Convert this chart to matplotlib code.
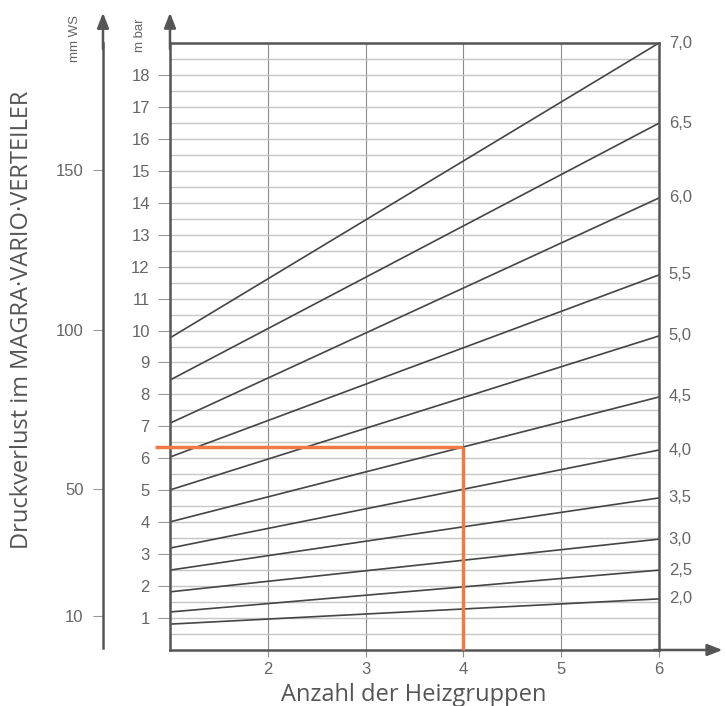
import numpy as np
import matplotlib
matplotlib.use("Agg")
import matplotlib.pyplot as plt
import matplotlib.transforms as mtransforms

# Anzahl der Heizgruppen
groups = [1, 6]
x_ticks = [2, 3, 4, 5, 6]

# curves: label at the right end, pressure loss (mbar) at 1 and at 6 groups
line_labels = ["7,0", "6,5", "6,0", "5,5", "5,0", "4,5", "4,0", "3,5", "3,0", "2,5", "2,0"]
mbar_at_1 = [9.77, 8.45, 7.10, 6.04, 5.01, 4.01, 3.19, 2.50, 1.82, 1.19, 0.81]
mbar_at_6 = [19.0, 16.49, 14.15, 11.74, 9.83, 7.92, 6.26, 4.76, 3.47, 2.50, 1.60]

mbar_ticks = list(range(1, 19))
mmws_ticks = [10, 50, 100, 150]

# example reading (orange)
example_groups = 4
example_mbar = 6.35

axis_col = "#555555"
text_col = "#666666"
num_font = "Liberation Sans"
lab_font = "Open Sans"

fig = plt.figure(figsize=(7.25, 7.06), dpi=100)
W, H = 725, 706
ax = fig.add_axes([170 / W, 56 / H, 489 / W, 607 / H])
ax.set_xlim(1, 6)
ax.set_ylim(0, 19)

# grid
ax.set_yticks(mbar_ticks)
ax.set_yticks(np.arange(0.5, 19, 0.5), minor=True)
ax.grid(axis="y", which="both", color="#c6c6c6", lw=1.0)
ax.set_xticks(x_ticks)
ax.grid(axis="x", color="#8c8c8c", lw=0.8)
ax.set_axisbelow(True)

ax.tick_params(axis="y", which="major", length=8.5, width=0.8, color="#9a9a9a",
               labelcolor=text_col, labelsize=12, pad=6)
ax.tick_params(axis="y", which="minor", length=0)
ax.tick_params(axis="x", length=5, width=0.8, color="#8c8c8c",
               labelcolor=text_col, labelsize=12, pad=4)
for lab in ax.get_xticklabels() + ax.get_yticklabels():
    lab.set_family(num_font)

for sp in ax.spines.values():
    sp.set_color(axis_col)
    sp.set_linewidth(1.8)

# curves
for lab, y1, y6 in zip(line_labels, mbar_at_1, mbar_at_6):
    ax.plot(groups, [y1, y6], color="#454545", lw=1.2)

trans = mtransforms.blended_transform_factory(ax.transAxes, ax.transData)
for lab, y6 in zip(line_labels, mbar_at_6):
    ax.text(1.02, y6, lab, transform=trans, ha="left", va="center",
            fontsize=12, color=text_col, family=num_font)

# orange example
x_left = ax.get_xlim()[0] - 0.15
ax.plot([x_left, example_groups], [example_mbar, example_mbar],
        color="#f07a45", lw=2.5, clip_on=False, solid_capstyle="butt", zorder=5)
ax.plot([example_groups, example_groups], [example_mbar, 0],
        color="#f07a45", lw=2.5, clip_on=False, solid_capstyle="butt", zorder=5)

# arrows on axes
arrow = dict(arrowstyle="-|>,head_length=0.9,head_width=0.35", color=axis_col,
             lw=1.8, shrinkA=0, shrinkB=0)
ax.annotate("", xy=(0, 1.05), xytext=(0, 0.99), xycoords="axes fraction", arrowprops=arrow)
ax.annotate("", xy=(1.13, 0), xytext=(0.99, 0), xycoords="axes fraction", arrowprops=arrow)

# mm WS axis
ax2 = fig.add_axes([103 / W, 58 / H, 0.0001, 605 / H])
ax2.set_ylim(0, 190)
ax2.set_yticks(mmws_ticks)
ax2.set_xticks([])
for s in ["top", "right", "bottom"]:
    ax2.spines[s].set_visible(False)
ax2.spines["left"].set_color(axis_col)
ax2.spines["left"].set_linewidth(1.8)
ax2.tick_params(axis="y", length=7, width=0.8, color="#9a9a9a",
                labelcolor=text_col, labelsize=12, pad=7)
for lab in ax2.get_yticklabels():
    lab.set_family(num_font)
ax2.annotate("", xy=(0, 1.05), xytext=(0, 0.99), xycoords="axes fraction", arrowprops=arrow)

# unit and axis titles
fig.text(140 / W, 1 - 35 / H, "m bar", rotation=90, ha="center", va="center",
         fontsize=9.5, color=text_col, family=num_font)
fig.text(75 / W, 1 - 38 / H, "mm WS", rotation=90, ha="center", va="center",
         fontsize=9.5, color=text_col, family=num_font)
fig.text(22 / W, 1 - 320 / H, "Druckverlust im MAGRA·VARIO·VERTEILER", rotation=90,
         ha="center", va="center", fontsize=17, color=axis_col, family=lab_font)
fig.text(414 / W, 1 - 695 / H, "Anzahl der Heizgruppen", ha="center", va="center",
         fontsize=17, color=axis_col, family=lab_font)

fig.savefig("out.png", dpi=100)
